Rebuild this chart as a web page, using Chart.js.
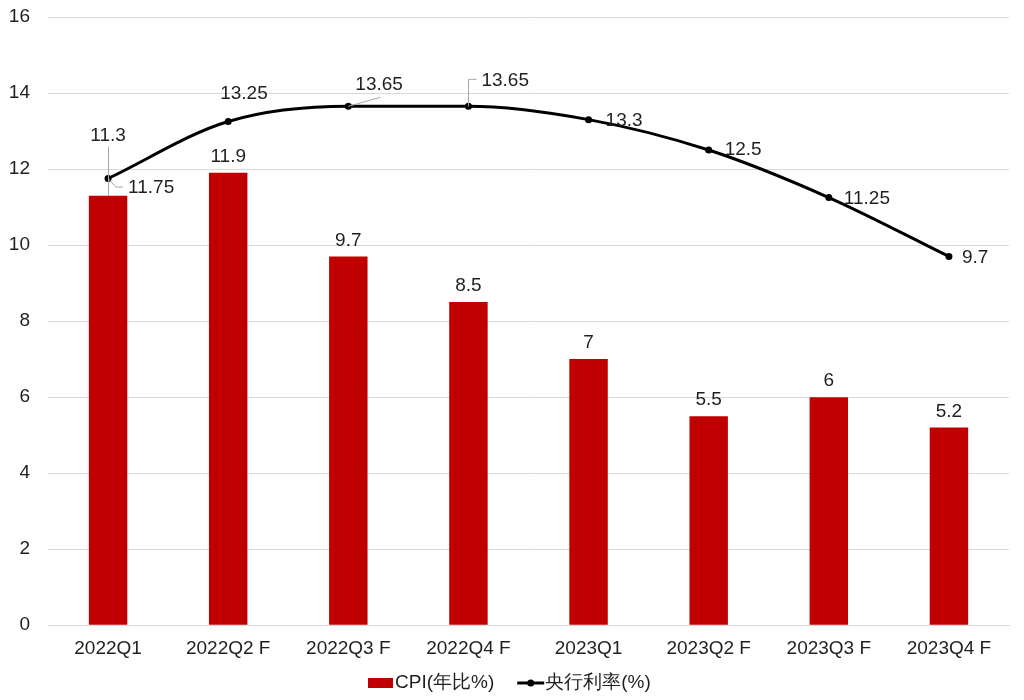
<!DOCTYPE html>
<html><head><meta charset="utf-8">
<script src="https://cdn.jsdelivr.net/npm/chart.js@4/dist/chart.umd.min.js"></script>
<style>html,body{margin:0;padding:0;background:#fff}canvas{display:block}</style>
</head><body>
<canvas id="c" width="1024" height="700"></canvas>
<script>
const categories = ['2022Q1','2022Q2 F','2022Q3 F','2022Q4 F','2023Q1','2023Q2 F','2023Q3 F','2023Q4 F'];
const cpiValues = [11.3, 11.9, 9.7, 8.5, 7, 5.5, 6, 5.2];
const rateValues = [11.75, 13.25, 13.65, 13.65, 13.3, 12.5, 11.25, 9.7];
const seriesNames = ['CPI(年比%)', '央行利率(%)'];

const FONT = '"Liberation Sans", Arial, sans-serif';
const TXT = '#1f1f1f';
const LEAD = '#a6a6a6';
// label offsets (styling): [dx, dy, align]
const cpiLabelOff = [[0,-60,'center'],[0,-16,'center'],[0,-16,'center'],[0,-16,'center'],[0,-16,'center'],[0,-16,'center'],[0,-16,'center'],[0,-16,'center']];
const rateLabelOff = [[20,9,'left'],[-8,-28,'left'],[7,-22,'left'],[13,-26,'left'],[17,1,'left'],[16,0,'left'],[15,1,'left'],[13,1,'left']];

const labelPlugin = {
  id: 'labels',
  afterDatasetsDraw(chart) {
    const ctx = chart.ctx;
    const x = chart.scales.x, y = chart.scales.y;
    ctx.save();
    ctx.font = '19px ' + FONT;
    ctx.textBaseline = 'middle';
    ctx.strokeStyle = LEAD; ctx.lineWidth = 1;
    cpiValues.forEach((v, i) => {
      const px = x.getPixelForValue(i), py = y.getPixelForValue(v);
      const [dx, dy, al] = cpiLabelOff[i];
      ctx.fillStyle = TXT;
      ctx.textAlign = al;
      ctx.fillText(String(v), px + dx, py + dy);
      if (i === 0) {
        ctx.beginPath(); ctx.moveTo(Math.round(px) + 0.5, py + dy + 11); ctx.lineTo(Math.round(px) + 0.5, py); ctx.stroke();
      }
    });
    rateValues.forEach((v, i) => {
      const px = x.getPixelForValue(i), py = y.getPixelForValue(v);
      const [dx, dy, al] = rateLabelOff[i];
      ctx.fillStyle = TXT;
      ctx.textAlign = al;
      ctx.fillText(String(v), px + dx, py + dy);
      ctx.beginPath();
      if (i === 0) {
        ctx.moveTo(px, py); ctx.lineTo(px + 8, py + 8.5); ctx.lineTo(px + 15, py + 8.5); ctx.stroke();
      } else if (i === 2) {
        ctx.moveTo(px, py); ctx.lineTo(px + 32, py - 9); ctx.stroke();
      } else if (i === 3) {
        ctx.moveTo(Math.round(px) + 0.5, py); ctx.lineTo(Math.round(px) + 0.5, py - 27); ctx.lineTo(px + 8, py - 27); ctx.stroke();
      }
    });
    ctx.restore();
  },
  afterDraw(chart) {
    const ctx = chart.ctx;
    ctx.save();
    ctx.font = '19px ' + FONT;
    ctx.textBaseline = 'middle';
    ctx.textAlign = 'left';
    const cy = 683;
    const w1 = ctx.measureText(seriesNames[0]).width;
    const w2 = ctx.measureText(seriesNames[1]).width;
    const total = 25 + 2 + w1 + 23 + 27 + 1 + w2;
    let sx = Math.round(512 - total / 2) - 3;
    ctx.fillStyle = '#C00000';
    ctx.fillRect(sx, cy - 5, 25, 10);
    ctx.fillStyle = TXT;
    ctx.fillText(seriesNames[0], sx + 27, cy);
    sx = sx + 27 + w1 + 23;
    ctx.strokeStyle = '#000'; ctx.lineWidth = 3;
    ctx.beginPath(); ctx.moveTo(sx, cy); ctx.lineTo(sx + 27, cy); ctx.stroke();
    ctx.fillStyle = '#000';
    ctx.beginPath(); ctx.arc(sx + 13.5, cy, 3.5, 0, Math.PI * 2); ctx.fill();
    ctx.fillStyle = TXT;
    ctx.fillText(seriesNames[1], sx + 28, cy);
    ctx.restore();
  }
};

new Chart(document.getElementById('c'), {
  data: {
    labels: categories,
    datasets: [
      { type: 'line', label: seriesNames[1], data: rateValues, borderColor: '#000', backgroundColor: '#000',
        borderWidth: 3, pointRadius: 3.5, pointBackgroundColor: '#000', pointBorderWidth: 0,
        cubicInterpolationMode: 'monotone', order: 0 },
      { type: 'bar', label: seriesNames[0], data: cpiValues, backgroundColor: '#C00000',
        barPercentage: 0.32, categoryPercentage: 1, order: 1 }
    ]
  },
  options: {
    responsive: false,
    animation: false,
    layout: { padding: { top: 17, right: 15, left: 8, bottom: 36 } },
    plugins: { legend: { display: false }, tooltip: { enabled: false } },
    scales: {
      x: {
        grid: { display: false },
        border: { display: true, color: '#d9d9d9' },
        ticks: { color: TXT, font: { family: FONT, size: 19 }, padding: 4, maxRotation: 0 }
      },
      y: {
        min: 0, max: 16,
        ticks: { stepSize: 2, color: TXT, font: { family: FONT, size: 19 }, padding: 18 },
        grid: { color: '#d9d9d9', drawTicks: false },
        border: { display: false },
        afterFit(s) { s.width = 40; s.paddingTop = 0; s.paddingBottom = 0; }
      }
    }
  },
  plugins: [labelPlugin]
});
</script>
</body></html>
